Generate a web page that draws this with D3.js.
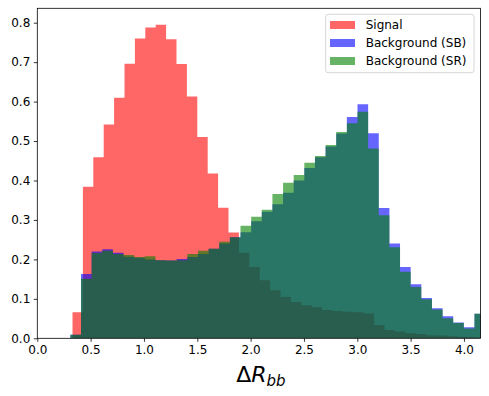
<!DOCTYPE html>
<html>
<head>
<meta charset="utf-8">
<script src="https://cdn.jsdelivr.net/npm/d3@7"></script>
<style>
  body { margin: 0; background: #fff; }
  svg text { font-family: "DejaVu Sans", sans-serif; }
</style>
</head>
<body>
<div id="chart"></div>
<script>
// Data (heights)
var sigStart = 0.33, sigWidth = 0.0975;
var signal = [0.066, 0.384, 0.459, 0.542, 0.610, 0.696, 0.760, 0.788, 0.795, 0.758,
              0.695, 0.613, 0.510, 0.418, 0.331, 0.268, 0.217, 0.181, 0.147, 0.122,
              0.105, 0.092, 0.084, 0.079, 0.072, 0.069, 0.067, 0.066, 0.063, 0.034,
              0.021, 0.017, 0.013, 0.011, 0.008, 0.007, 0.005, 0.004, 0.003, 0.002];

var bgStart = 0.31, bgWidth = 0.0997;
var backgroundSB = [0.009, 0.163, 0.220, 0.226, 0.217, 0.207, 0.204, 0.200, 0.198, 0.197,
                    0.201, 0.206, 0.214, 0.227, 0.240, 0.256, 0.269, 0.297, 0.321, 0.340,
                    0.369, 0.400, 0.432, 0.459, 0.486, 0.519, 0.561, 0.593, 0.520, 0.330,
                    0.240, 0.181, 0.137, 0.102, 0.076, 0.056, 0.040, 0.028, 0.062];
var backgroundSR = [0.009, 0.151, 0.216, 0.222, 0.214, 0.211, 0.206, 0.208, 0.198, 0.197,
                    0.198, 0.214, 0.222, 0.227, 0.245, 0.256, 0.285, 0.308, 0.326, 0.366,
                    0.394, 0.414, 0.445, 0.462, 0.490, 0.523, 0.545, 0.574, 0.481, 0.312,
                    0.231, 0.169, 0.130, 0.099, 0.073, 0.051, 0.039, 0.025, 0.062];

var xTicks = [0.0, 0.5, 1.0, 1.5, 2.0, 2.5, 3.0, 3.5, 4.0];
var yTicks = [0.0, 0.1, 0.2, 0.3, 0.4, 0.5, 0.6, 0.7, 0.8];
var seriesNames = ["Signal", "Background (SB)", "Background (SR)"];

// Measurement
var w = 489, h = 396;
var padL = 37.3, padR = 480.5, padT = 8.3, padB = 338.3;

var xScale = d3.scaleLinear().domain([0, 4.155]).range([padL, padR]);
var yScale = d3.scaleLinear().domain([0, 0.8365]).range([padB, padT]);

var svg = d3.select("#chart").append("svg")
  .attr("width", w)
  .attr("height", h);

svg.append("defs").append("clipPath")
  .attr("id", "plotclip")
  .append("rect")
  .attr("x", padL).attr("y", padT)
  .attr("width", padR - padL).attr("height", padB - padT);

// turn bin heights into step points
function steps(start, width, vals) {
  var pts = vals.map(function(v, i) { return [start + i * width, v]; });
  pts.push([start + vals.length * width, vals[vals.length - 1]]);
  return pts;
}

var area = d3.area()
  .curve(d3.curveStepAfter)
  .x(function(d) { return xScale(d[0]); })
  .y0(yScale(0))
  .y1(function(d) { return yScale(d[1]); });

var hists = [
  { pts: steps(sigStart, sigWidth, signal), color: "#ff0000" },
  { pts: steps(bgStart, bgWidth, backgroundSB), color: "#0000ff" },
  { pts: steps(bgStart, bgWidth, backgroundSR), color: "#008000" }
];

svg.append("g")
  .attr("clip-path", "url(#plotclip)")
  .selectAll("path")
  .data(hists)
  .enter()
  .append("path")
  .attr("d", function(d) { return area(d.pts); })
  .attr("fill", function(d) { return d.color; })
  .attr("fill-opacity", 0.6);

// Axes
var xAxis = d3.axisBottom(xScale)
  .tickValues(xTicks)
  .tickFormat(d3.format(".1f"))
  .tickSize(3.5)
  .tickPadding(3.5);

var yAxis = d3.axisLeft(yScale)
  .tickValues(yTicks)
  .tickFormat(d3.format(".1f"))
  .tickSize(3.5)
  .tickPadding(3.5);

var gx = svg.append("g")
  .attr("transform", "translate(0," + padB + ")")
  .call(xAxis);
var gy = svg.append("g")
  .attr("transform", "translate(" + padL + ",0)")
  .call(yAxis);

[gx, gy].forEach(function(g) {
  g.select(".domain").remove();
  g.selectAll(".tick line").attr("stroke", "#000").attr("stroke-width", 0.8);
  g.selectAll(".tick text")
    .attr("fill", "#000")
    .attr("font-size", 12)
    .attr("font-family", "DejaVu Sans");
});

// frame
svg.append("rect")
  .attr("x", padL).attr("y", padT)
  .attr("width", padR - padL).attr("height", padB - padT)
  .attr("fill", "none")
  .attr("stroke", "#000")
  .attr("stroke-width", 0.8);

// x label: ΔR_bb
var xl = svg.append("text")
  .attr("x", (padL + padR) / 2 + 2)
  .attr("y", 381.5)
  .attr("text-anchor", "middle")
  .attr("font-size", 22)
  .attr("fill", "#000");
xl.append("tspan").text("Δ");
xl.append("tspan").attr("font-style", "italic").text("R");
xl.append("tspan")
  .attr("font-style", "italic")
  .attr("font-size", 15)
  .attr("dy", 4)
  .text("bb");

// Legend
var legend = svg.append("g");
legend.append("rect")
  .attr("x", 325.7).attr("y", 14.3)
  .attr("width", 148.3).attr("height", 58.4)
  .attr("rx", 2.5)
  .attr("fill", "#fff")
  .attr("fill-opacity", 0.8)
  .attr("stroke", "#cccccc")
  .attr("stroke-width", 0.8);

var items = legend.selectAll(".item")
  .data(seriesNames)
  .enter()
  .append("g")
  .attr("class", "item")
  .attr("transform", function(d, i) { return "translate(330," + (25 + i * 18) + ")"; });

items.append("rect")
  .attr("x", 0).attr("y", -4)
  .attr("width", 25).attr("height", 8)
  .attr("fill", function(d, i) { return hists[i].color; })
  .attr("fill-opacity", 0.6);

items.append("text")
  .attr("x", 35.7)
  .attr("y", 0)
  .attr("dy", "0.35em")
  .attr("font-size", 12)
  .attr("fill", "#000")
  .text(function(d) { return d; });
</script>
</body>
</html>
